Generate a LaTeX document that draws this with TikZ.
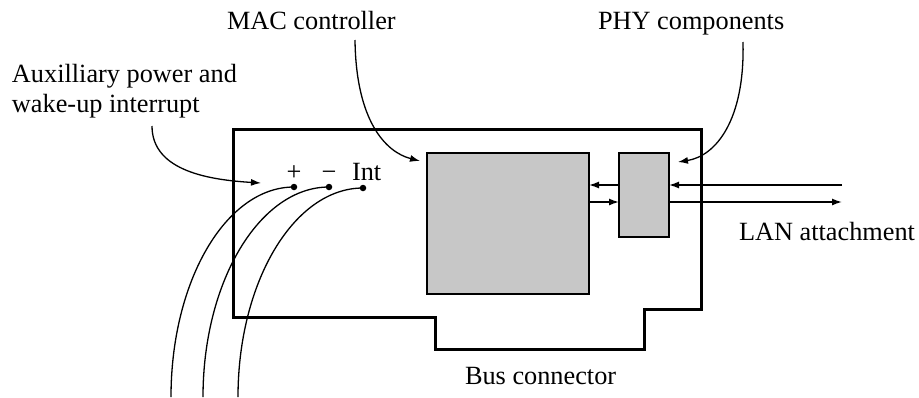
\documentclass[tikz,border=0pt]{standalone}
\usepackage{fontspec}
\setmainfont{Liberation Serif}
\usetikzlibrary{arrows.meta}
\begin{document}
\begin{tikzpicture}[x=1pt,y=-1pt,
  lbl/.style={inner sep=0pt,outer sep=0pt,font=\fontsize{26.3}{31}\selectfont},
  chip/.style={draw,line width=1.4pt,fill=black!22,inner sep=0pt,outer sep=0pt},
  board/.style={draw,line width=3pt,line join=miter},
  ptr/.style={line width=1.3pt,-{Latex[length=10pt,width=7pt]}},
  sig/.style={line width=1.4pt,-{Latex[length=10pt,width=7pt]}},
  wire/.style={line width=1.3pt},
  pin/.style={circle,fill=black,inner sep=0pt,minimum size=6.5pt}]
\useasboundingbox (0,0) rectangle (919,397);
% board outline
\draw[board] (233,129) -- (701,129) -- (701,309) -- (644,309) -- (644,349)
  -- (435,349) -- (435,317) -- (233,317) -- cycle;
% chips
\node[chip,anchor=north west,minimum width=162pt,minimum height=141pt] (mac) at (427,153) {};
\node[chip,anchor=north west,minimum width=50pt,minimum height=84pt] (phy) at (619,153) {};
% labels
\node[lbl,anchor=base west] (maclbl) at (227,29) {MAC controller};
\node[lbl,anchor=base west] (phylbl) at (598,29) {PHY components};
\node[lbl,anchor=base west] (aux1) at (12,82) {Auxilliary power and};
\node[lbl,anchor=base west] (aux2) at (12,112) {wake-up interrupt};
\node[lbl,anchor=base west] (lan) at (739,240) {LAN attachment};
\node[lbl,anchor=base west] (bus) at (465,384) {Bus connector};
\node[lbl,anchor=base] (plus) at (294,180) {+};
\node[lbl,anchor=base] (minus) at (329,180) {−};
\node[lbl,anchor=base west] (int) at (352,180) {Int};
% pins
\node[pin] (p1) at (294,187) {};
\node[pin] (p2) at (329,187) {};
\node[pin] (p3) at (363,188) {};
% free ends
\coordinate (auxs) at (152,126);
\coordinate (auxt) at (261,183);
\coordinate (macs) at (355,40);
\coordinate (mact) at (420,161);
\coordinate (phys) at (743,42);
\coordinate (phyt) at (678,162);
\coordinate (lanin) at (842,185);
\coordinate (lanout) at (842,202);
\coordinate (w1) at (171,397);
\coordinate (w2) at (203,397);
\coordinate (w3) at (238,397);
% pointer arrows
\draw[ptr] (auxs) .. controls (152,172) and (212,180) .. (auxt);
\draw[ptr] (macs) .. controls (356,120) and (385,152) .. (mact);
\draw[ptr] (phys) .. controls (745,120) and (716,156) .. (phyt);
% signal arrows
\draw[sig] (lanin) -- (phy.east |- lanin);
\draw[sig] (phy.west |- lanin) -- (mac.east |- lanin);
\draw[sig] (mac.east |- lanout) -- (phy.west |- lanout);
\draw[sig] (phy.east |- lanout) -- (lanout);
% wires
\draw[wire] (p1.center) .. controls (226,187) and (171,281) .. (w1);
\draw[wire] (p2.center) .. controls (260,187) and (203,281) .. (w2);
\draw[wire] (p3.center) .. controls (294,188) and (238,282) .. (w3);
\end{tikzpicture}
\end{document}
